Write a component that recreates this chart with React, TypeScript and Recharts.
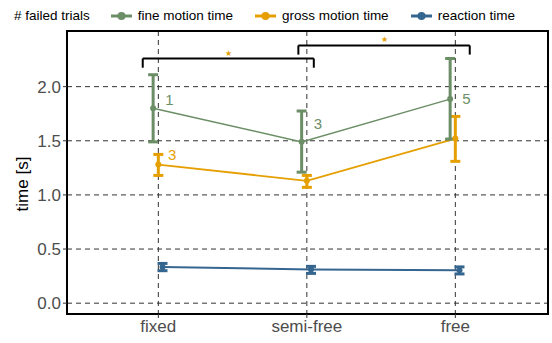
import {
  ComposedChart,
  Line,
  XAxis,
  YAxis,
  CartesianGrid,
  ErrorBar,
  ReferenceLine,
  ReferenceDot,
  ReferenceArea,
  Legend,
} from 'recharts'

const categories = ['fixed', 'semi-free', 'free']

const fineMean = [1.8, 1.49, 1.885]
const fineLow = [1.49, 1.21, 1.516]
const fineHigh = [2.11, 1.775, 2.26]

const grossMean = [1.28, 1.13, 1.52]
const grossLow = [1.18, 1.07, 1.31]
const grossHigh = [1.374, 1.18, 1.725]

const reactMean = [0.335, 0.31, 0.305]
const reactLow = [0.3, 0.275, 0.27]
const reactHigh = [0.367, 0.34, 0.335]

// number of failed trials, printed next to the points
const fineFailed = [1, 3, 5]
const fineFailedY = [1.885, 1.66, 1.89]
const grossFailed = [3, null, null]
const grossFailedY = [1.377, null, null]

// significance brackets: [x from, x to, y]
const brackets = [
  [-0.105, 1.047, 2.26],
  [0.943, 2.097, 2.381],
]

const yTicks = [0, 0.5, 1, 1.5, 2]
const xDomain = [-0.615, 2.624]
const yDomain = [-0.1, 2.514]

const GREEN = '#6b8e66'
const ORANGE = '#e69f00'
const BLUE = '#35668f'
const FONT = '"Liberation Sans", Arial, sans-serif'

const makeRows = (mean: number[], low: number[], high: number[], shift: number) =>
  mean.map((m, i) => ({ x: i + shift, y: m, err: [m - low[i], high[i] - m] }))

const fineRows = makeRows(fineMean, fineLow, fineHigh, -0.035)
const grossRows = makeRows(grossMean, grossLow, grossHigh, 0)
const reactRows = makeRows(reactMean, reactLow, reactHigh, 0.028)

const legendItems = [
  { name: 'fine motion time', color: GREEN },
  { name: 'gross motion time', color: ORANGE },
  { name: 'reaction time', color: BLUE },
]

const LegendBox = () => (
  <div
    style={{
      height: 31,
      display: 'flex',
      alignItems: 'center',
      paddingLeft: 14,
      fontFamily: FONT,
      fontSize: 13.5,
      color: '#000',
      whiteSpace: 'nowrap',
    }}
  >
    <span style={{ marginRight: 21 }}># failed trials</span>
    {legendItems.map((it) => (
      <span key={it.name} style={{ display: 'flex', alignItems: 'center', marginRight: 22 }}>
        <svg width={21} height={10} style={{ marginRight: 6 }}>
          <line x1={0} y1={5} x2={21} y2={5} stroke={it.color} strokeWidth={3} />
          <circle cx={10.5} cy={5} r={4} fill={it.color} />
        </svg>
        {it.name}
      </span>
    ))}
  </div>
)

const textShape = (value: string | number, color: string, size: number) => (p: any) => (
  <text
    x={p.cx}
    y={p.cy}
    fill={color}
    fontSize={size}
    fontFamily={FONT}
    textAnchor="middle"
    dominantBaseline="central"
  >
    {value}
  </text>
)

export default function App() {
  return (
    <div style={{ position: 'absolute', left: 0, top: 0 }}>
      <ComposedChart
        width={552}
        height={343}
        margin={{ top: 0, right: 4, bottom: 0, left: 0 }}
        style={{ fontFamily: FONT }}
      >
        <Legend
          verticalAlign="top"
          align="left"
          content={() => <LegendBox />}
          wrapperStyle={{ top: 0, left: 0, width: 552, height: 31 }}
        />
        <CartesianGrid stroke="#333" strokeDasharray="5 4" strokeWidth={1} />
        <XAxis
          dataKey="x"
          type="number"
          domain={xDomain}
          allowDataOverflow
          ticks={[0, 1, 2]}
          tickFormatter={(v) => categories[v]}
          height={29}
          axisLine={{ stroke: '#000', strokeWidth: 2 }}
          tickLine={{ stroke: '#333' }}
          tickSize={4}
          tick={{ fill: '#4d4d4d', fontSize: 17 }}
        />
        <YAxis
          type="number"
          domain={yDomain}
          allowDataOverflow
          ticks={yTicks}
          tickFormatter={(v) => v.toFixed(1)}
          width={67}
          axisLine={{ stroke: '#000', strokeWidth: 2 }}
          tickLine={{ stroke: '#333' }}
          tickSize={4}
          tick={{ fill: '#4d4d4d', fontSize: 17 }}
          label={{
            content: () => (
              <text
                x={22}
                y={184}
                transform="rotate(-90 22 184)"
                textAnchor="middle"
                dominantBaseline="central"
                fontSize={17}
                fontFamily={FONT}
                fill="#000"
              >
                time [s]
              </text>
            ),
          }}
        />
        <ReferenceArea
          x1={xDomain[0]}
          x2={xDomain[1]}
          y1={yDomain[0]}
          y2={yDomain[1]}
          fillOpacity={0}
          stroke="#000"
          strokeWidth={2}
          ifOverflow="visible"
        />
        {brackets.map(([a, b, y], i) => [
          <ReferenceLine key={`h${i}`} segment={[{ x: a, y }, { x: b, y }]} stroke="#000" strokeWidth={2} />,
          <ReferenceLine key={`l${i}`} segment={[{ x: a, y }, { x: a, y: y - 0.085 }]} stroke="#000" strokeWidth={2} />,
          <ReferenceLine key={`r${i}`} segment={[{ x: b, y }, { x: b, y: y - 0.085 }]} stroke="#000" strokeWidth={2} />,
          <ReferenceDot
            key={`s${i}`}
            x={(a + b) / 2}
            y={y + 0.05}
            r={0}
            shape={textShape('★', ORANGE, 8)}
          />,
        ])}
        <Line
          data={reactRows}
          dataKey="y"
          stroke={BLUE}
          strokeWidth={2}
          dot={{ r: 3, fill: BLUE, stroke: BLUE, strokeWidth: 0 }}
          isAnimationActive={false}
        >
          <ErrorBar dataKey="err" direction="y" width={5} stroke={BLUE} strokeWidth={3} />
        </Line>
        <Line
          data={grossRows}
          dataKey="y"
          stroke={ORANGE}
          strokeWidth={1.8}
          dot={{ r: 3, fill: ORANGE, stroke: ORANGE, strokeWidth: 0 }}
          isAnimationActive={false}
        >
          <ErrorBar dataKey="err" direction="y" width={5} stroke={ORANGE} strokeWidth={3} />
        </Line>
        <Line
          data={fineRows}
          dataKey="y"
          stroke={GREEN}
          strokeWidth={1.5}
          dot={{ r: 3, fill: GREEN, stroke: GREEN, strokeWidth: 0 }}
          isAnimationActive={false}
        >
          <ErrorBar dataKey="err" direction="y" width={5} stroke={GREEN} strokeWidth={3} />
        </Line>
        {fineFailed.map((n, i) => (
          <ReferenceDot
            key={`ff${i}`}
            x={i + 0.075}
            y={fineFailedY[i]}
            r={0}
            shape={textShape(n, GREEN, 15)}
          />
        ))}
        {grossFailed.map((n, i) =>
          n == null ? null : (
            <ReferenceDot
              key={`gf${i}`}
              x={i + 0.094}
              y={grossFailedY[i] as number}
              r={0}
              shape={textShape(n, ORANGE, 15)}
            />
          ),
        )}
      </ComposedChart>
    </div>
  )
}
